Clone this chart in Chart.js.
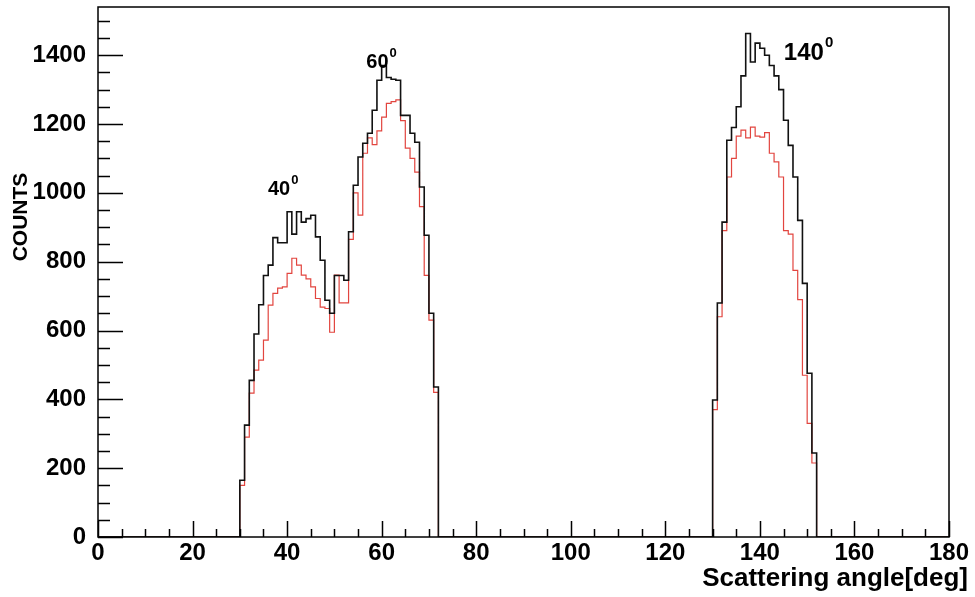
<!DOCTYPE html>
<html>
<head>
<meta charset="utf-8">
<script src="https://cdn.jsdelivr.net/npm/chart.js@4.4.1/dist/chart.umd.min.js"></script>
<style>
  html, body { margin: 0; padding: 0; background: #fff; }
</style>
</head>
<body>
<canvas id="chart" width="975" height="597"></canvas>
<script>
// histogram: 1 degree bins
const xMin = 0;
const xMax = 180;
const yMax = 1540;

const lowStart = 30;   // first bin of the 40/60 deg group
const blackLow = [165, 325, 455, 590, 675, 760, 790, 870, 855, 855,
                  945, 880, 945, 915, 925, 935, 872, 804, 688, 650,
                  760, 760, 746, 887, 1022, 1104, 1144, 1173, 1240, 1327,
                  1370, 1335, 1330, 1327, 1225, 1225, 1173, 1147, 1017, 877,
                  650, 436];
const redLow = [150, 290, 418, 485, 514, 572, 674, 708, 723, 727,
                766, 810, 790, 761, 750, 727, 693, 668, 664, 595,
                761, 680, 680, 865, 1000, 935, 1115, 1160, 1140, 1180,
                1220, 1260, 1265, 1270, 1210, 1130, 1100, 1060, 960, 760,
                630, 420];

const highStart = 130; // first bin of the 140 deg group
const blackHigh = [398, 680, 915, 1153, 1190, 1250, 1340, 1463, 1380, 1435,
                   1420, 1400, 1370, 1340, 1300, 1211, 1138, 1046, 920, 737,
                   476, 244];
const redHigh = [370, 640, 890, 1046, 1100, 1165, 1182, 1160, 1191, 1165,
                 1162, 1175, 1115, 1090, 1046, 890, 880, 775, 690, 470,
                 330, 215];

const peakLabels = ["40", "60", "140"];
const peakLabelX = [38.3, 59.1, 149.3];
const peakLabelY = [995, 1362, 1385];

const xTitle = "Scattering angle[deg]";
const yTitle = "COUNTS";

function buildHist(groups) {
    const counts = new Array(xMax - xMin).fill(0);
    groups.forEach(function (g) {
        g.values.forEach(function (v, i) {
            counts[g.start + i - xMin] = v;
        });
    });
    // left edges, step-before, plus closing point on the right edge
    const pts = counts.map(function (v, i) { return { x: xMin + i, y: v }; });
    pts.push({ x: xMax, y: 0 });
    return pts;
}

const blackData = buildHist([
    { start: lowStart, values: blackLow },
    { start: highStart, values: blackHigh }
]);
const redData = buildHist([
    { start: lowStart, values: redLow },
    { start: highStart, values: redHigh }
]);

const FONT = "'Liberation Sans', Arial, Helvetica, sans-serif";

const rootFrame = {
    id: "rootFrame",
    afterDatasetsDraw(chart) {
        const ctx = chart.ctx;
        const a = chart.chartArea;
        const xs = chart.scales.x;
        const ys = chart.scales.y;
        ctx.save();
        ctx.strokeStyle = "#000";
        ctx.lineWidth = 1.5;

        // ticks drawn inside the frame, ROOT style
        ctx.beginPath();
        for (let v = xMin; v <= xMax; v += 5) {
            const px = Math.round(xs.getPixelForValue(v)) + 0.5;
            const len = v % 20 === 0 ? 16 : 8;
            ctx.moveTo(px, a.bottom);
            ctx.lineTo(px, a.bottom - len);
        }
        for (let v = 0; v <= yMax; v += 50) {
            const py = Math.round(ys.getPixelForValue(v)) + 0.5;
            const len = v % 200 === 0 ? 25 : 12;
            ctx.moveTo(a.left, py);
            ctx.lineTo(a.left + len, py);
        }
        ctx.stroke();

        ctx.strokeRect(a.left, a.top, a.right - a.left, a.bottom - a.top);

        // axis titles
        ctx.fillStyle = "#000";
        ctx.font = "bold 26px " + FONT;
        ctx.textAlign = "right";
        ctx.textBaseline = "alphabetic";
        ctx.fillText(xTitle, 968, 586);

        ctx.save();
        ctx.translate(27, 217);
        ctx.rotate(-Math.PI / 2);
        ctx.textAlign = "center";
        ctx.font = "bold 21px " + FONT;
        ctx.fillText(yTitle, 0, 0);
        ctx.restore();

        // peak labels with a raised degree zero
        peakLabels.forEach(function (t, i) {
            const big = t.length > 2;
            const px = xs.getPixelForValue(peakLabelX[i]);
            const py = ys.getPixelForValue(peakLabelY[i]);
            ctx.font = "bold " + (big ? 24 : 20) + "px " + FONT;
            ctx.textAlign = "center";
            ctx.fillText(t, px, py);
            const w = ctx.measureText(t).width;
            ctx.font = "bold " + (big ? 15 : 13) + "px " + FONT;
            ctx.textAlign = "left";
            ctx.fillText("0", px + w / 2 + 1, py - (big ? 13 : 11));
        });
        ctx.restore();
    }
};

new Chart(document.getElementById("chart"), {
    type: "line",
    data: {
        datasets: [
            {
                label: "black",
                data: blackData,
                borderColor: "#111",
                borderWidth: 1.6,
                stepped: true,
                pointRadius: 0,
                fill: false
            },
            {
                label: "red",
                data: redData,
                borderColor: "#e2453f",
                borderWidth: 1.2,
                stepped: true,
                pointRadius: 0,
                fill: false
            }
        ]
    },
    options: {
        responsive: false,
        animation: false,
        layout: { padding: { top: 7, right: 26, left: 0, bottom: 0 } },
        plugins: {
            legend: { display: false },
            tooltip: { enabled: false }
        },
        scales: {
            x: {
                type: "linear",
                min: xMin,
                max: xMax,
                grid: { display: false, drawTicks: false },
                border: { display: false },
                ticks: {
                    stepSize: 20,
                    maxRotation: 0,
                    autoSkip: false,
                    padding: 2,
                    color: "#000",
                    font: { family: FONT, size: 24, weight: "bold" }
                },
                afterFit: function (scale) {
                    scale.height = 60;
                    scale.paddingRight = 0;
                    scale.paddingLeft = 0;
                }
            },
            y: {
                min: 0,
                max: yMax,
                grid: { display: false, drawTicks: false },
                border: { display: false },
                ticks: {
                    stepSize: 200,
                    padding: 12,
                    color: "#000",
                    font: { family: FONT, size: 24, weight: "bold" },
                    callback: function (value) { return String(value); }
                },
                afterBuildTicks: function (scale) {
                    scale.ticks = scale.ticks.filter(function (t) { return t.value % 200 === 0; });
                },
                afterFit: function (scale) {
                    scale.width = 98;
                    scale.paddingTop = 0;
                    scale.paddingBottom = 0;
                }
            }
        }
    },
    plugins: [rootFrame]
});
</script>
</body>
</html>
